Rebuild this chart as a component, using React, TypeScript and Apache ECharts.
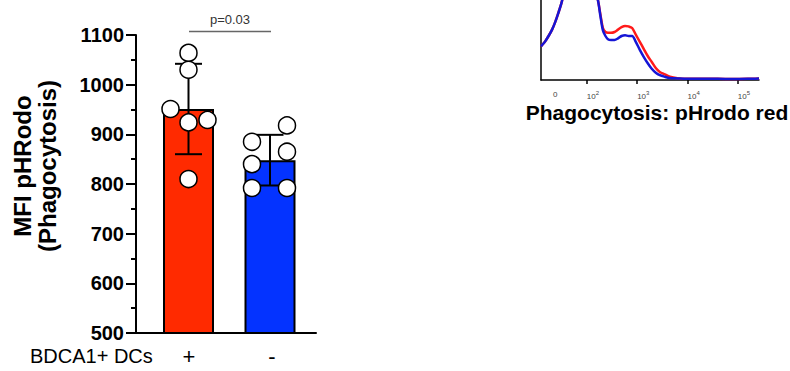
import React, { useEffect, useRef } from "react";
import * as echarts from "echarts";

// ---------- Bar chart data ----------
const categories = ["+", "-"];
const barMeans = [951, 848];
const barSD = [91, 51];
const pointsPlus = [1064, 1030, 951, 924, 929, 810];
const pointsMinus = [918, 885, 865, 840, 792, 792];
const yTicks = [500, 600, 700, 800, 900, 1000, 1100];
const pValue = "p=0.03";

// ---------- Histogram data (x in log10 display units) ----------
const histX = [1.09, 1.13, 1.17, 1.24, 1.31, 1.37, 1.43, 1.5, 1.6, 1.75, 1.9, 2.05, 2.15, 2.22, 2.27, 2.32, 2.37, 2.42, 2.48, 2.55, 2.62, 2.69, 2.76, 2.83, 2.9, 2.97, 3.05, 3.13, 3.21, 3.29, 3.37, 3.45, 3.55, 3.65, 3.8, 4.0, 4.3, 4.6, 4.9, 5.2, 5.42];
const blueCounts = [42, 45, 48, 55, 63, 72, 83, 97, 125, 150, 155, 140, 115, 100, 80, 62, 55, 51, 50, 50, 52, 55, 56, 55, 55, 48, 38, 29, 21, 14, 9, 6, 4, 2.5, 2, 1.5, 1.5, 1.5, 1.2, 1.5, 2];
const redCounts = [42, 45, 48, 55, 63, 72, 83, 97, 125, 150, 155, 140, 115, 100, 82, 65, 60, 59, 59, 60, 63, 66, 67.5, 67, 65, 57, 48, 39, 30, 22.5, 15, 10, 7, 4, 2.2, 1.5, 1.5, 1.5, 1.2, 1.5, 2];
const histLabelValues = [1.33, 2, 3, 4, 5];
const histLabelText = ["0", "10{s|2}", "10{s|3}", "10{s|4}", "10{s|5}"];
const histTitle = "Phagocytosis: pHrodo red";
const groupLabel = "BDCA1+ DCs";
const yTitle = "MFI pHRodo\n(Phagocytosis)";

// ---------- layout constants ----------
const groupX = [52.5, 134];
const jitterPlus = [0, 0, -18, 0, 19, 0];
const jitterMinus = [17, -18, 17, -18, -18, 17];
const barColors = ["#ff2a00", "#0433ff"];
const FONT = "'Liberation Sans', Arial, Helvetica, sans-serif";

const majorHistTicks = [2, 3, 4, 5];
const minorHistTicks: number[] = [1.22, 1.26, 1.3, 1.33];
for (let d = 1; d <= 5; d++) {
  for (let k = 2; k <= 9; k++) {
    const v = d + Math.log10(k);
    if (v > 1.45 && v < 5.42) minorHistTicks.push(v);
  }
}

export default function App() {
  const ref = useRef<HTMLDivElement>(null);
  useEffect(() => {
    if (!ref.current) return;
    const chart = echarts.init(ref.current, null, { renderer: "svg" });

    const scatterData: number[][] = [];
    pointsPlus.forEach((v, i) => scatterData.push([groupX[0] + jitterPlus[i], v]));
    pointsMinus.forEach((v, i) => scatterData.push([groupX[1] + jitterMinus[i], v]));

    const option: any = {
      animation: false,
      textStyle: { fontFamily: FONT },
      grid: [
        { left: 136, top: 35, width: 180, height: 298 },
        { left: 541, top: 0, width: 218, height: 80 },
      ],
      xAxis: [
        {
          gridIndex: 0, type: "value", min: 0, max: 180,
          axisLine: { show: true, lineStyle: { color: "#000", width: 2 } },
          axisTick: { show: false }, axisLabel: { show: false }, splitLine: { show: false },
        },
        {
          gridIndex: 1, type: "value", min: 1.09, max: 5.42,
          axisLine: { show: true, lineStyle: { color: "#000", width: 1.5 } },
          axisTick: { show: true, customValues: majorHistTicks, length: 4, lineStyle: { color: "#000", width: 1.5 } },
          axisLabel: {
            show: true, customValues: histLabelValues, align: "left", margin: 10,
            color: "#444", fontSize: 8, fontFamily: FONT,
            formatter: (v: number) => {
              const i = histLabelValues.findIndex((x) => Math.abs(x - v) < 1e-6);
              return i >= 0 ? histLabelText[i] : "";
            },
            rich: {
              s: { fontSize: 6, color: "#444", padding: [0, 0, 6, 0], verticalAlign: "bottom" },
            },
          },
          splitLine: { show: false },
        },
        {
          gridIndex: 1, type: "value", min: 1.09, max: 5.42,
          axisLine: { show: false },
          axisTick: { show: true, customValues: minorHistTicks, length: 2.5, lineStyle: { color: "#000", width: 1 } },
          axisLabel: { show: false }, splitLine: { show: false },
        },
      ],
      yAxis: [
        {
          gridIndex: 0, type: "value", min: 500, max: 1100, interval: 100,
          axisLine: { show: true, lineStyle: { color: "#000", width: 2 } },
          axisTick: { show: true, length: 10, lineStyle: { color: "#000", width: 2 } },
          minorTick: { show: true, splitNumber: 2, length: 5, lineStyle: { color: "#000", width: 2 } },
          axisLabel: {
            color: "#000", fontWeight: "bold", fontSize: 20, margin: 12, fontFamily: FONT,
            customValues: yTicks,
            formatter: (v: number) => String(v),
          },
          splitLine: { show: false },
        },
        {
          gridIndex: 1, type: "value", min: 0, max: 100,
          axisLine: { show: true, lineStyle: { color: "#000", width: 1.5 } },
          axisTick: { show: false }, axisLabel: { show: false }, splitLine: { show: false },
        },
      ],
      series: [
        {
          type: "bar", xAxisIndex: 0, yAxisIndex: 0, barWidth: 51, z: 2,
          data: barMeans.map((m, i) => ({
            value: [groupX[i], m],
            itemStyle: { color: barColors[i], borderColor: "#000", borderWidth: 2 },
          })),
        },
        {
          type: "custom", xAxisIndex: 0, yAxisIndex: 0, z: 3,
          data: barMeans.map((m, i) => [groupX[i], m, barSD[i]]),
          renderItem: (params: any, api: any) => {
            const x = api.value(0), m = api.value(1), sd = api.value(2);
            const top = api.coord([x, m + sd]);
            const bot = api.coord([x, m - sd]);
            const half = 13.5;
            const style = { stroke: "#000", lineWidth: 2 };
            return {
              type: "group",
              children: [
                { type: "line", shape: { x1: top[0], y1: top[1], x2: bot[0], y2: bot[1] }, style },
                { type: "line", shape: { x1: top[0] - half, y1: top[1], x2: top[0] + half, y2: top[1] }, style },
                { type: "line", shape: { x1: bot[0] - half, y1: bot[1], x2: bot[0] + half, y2: bot[1] }, style },
              ],
            };
          },
        },
        {
          type: "scatter", xAxisIndex: 0, yAxisIndex: 0, z: 4,
          symbol: "circle", symbolSize: 17,
          itemStyle: { color: "#fff", borderColor: "#000", borderWidth: 1.5, opacity: 1 },
          data: scatterData,
        },
        {
          type: "line", xAxisIndex: 1, yAxisIndex: 1, showSymbol: false, smooth: 0.3,
          lineStyle: { color: "#ff1a1a", width: 2.5 },
          data: histX.map((x, i) => [x, redCounts[i]]),
        },
        {
          type: "line", xAxisIndex: 1, yAxisIndex: 1, showSymbol: false, smooth: 0.3,
          lineStyle: { color: "#1515d6", width: 2.5 },
          data: histX.map((x, i) => [x, blueCounts[i]]),
        },
      ],
      graphic: [
        {
          type: "text", x: 35, y: 166, rotation: Math.PI / 2,
          style: {
            text: yTitle, fontSize: 24, fontWeight: "bold", fontFamily: FONT, fill: "#000",
            textAlign: "center", textVerticalAlign: "middle", lineHeight: 25,
          },
        },
        {
          type: "text", x: 30, y: 356,
          style: { text: groupLabel, fontSize: 20, fontFamily: FONT, fill: "#000", textAlign: "left", textVerticalAlign: "middle" },
        },
        {
          type: "text", x: 189, y: 356,
          style: { text: categories[0], fontSize: 22, fontFamily: FONT, fill: "#000", textAlign: "center", textVerticalAlign: "middle" },
        },
        {
          type: "text", x: 272, y: 356,
          style: { text: categories[1], fontSize: 22, fontFamily: FONT, fill: "#000", textAlign: "center", textVerticalAlign: "middle" },
        },
        {
          type: "line", shape: { x1: 189, y1: 31.5, x2: 271, y2: 31.5 },
          style: { stroke: "#666", lineWidth: 1.5 },
        },
        {
          type: "text", x: 230, y: 19,
          style: { text: pValue, fontSize: 13, fontFamily: FONT, fill: "#333", textAlign: "center", textVerticalAlign: "middle" },
        },
        {
          type: "text", x: 657, y: 112,
          style: { text: histTitle, fontSize: 21, fontWeight: "bold", fontFamily: FONT, fill: "#000", textAlign: "center", textVerticalAlign: "middle" },
        },
      ],
    };
    chart.setOption(option);
    return () => chart.dispose();
  }, []);
  return (
    <div
      ref={ref}
      style={{ position: "absolute", left: 0, top: 0, width: 790, height: 371, background: "#fff" }}
    />
  );
}
